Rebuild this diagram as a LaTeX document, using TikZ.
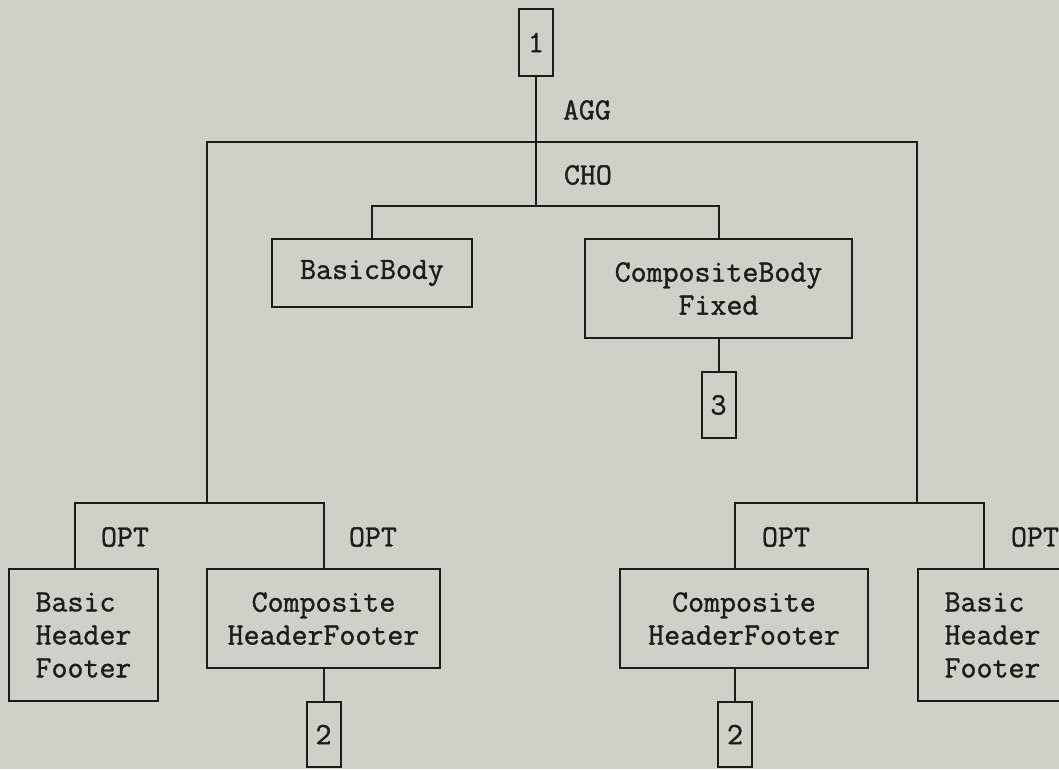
\documentclass[tikz,border=0pt]{standalone}
\usepackage{fontspec}
\setmonofont{Latin Modern Mono}[FakeBold=1.2]
\usetikzlibrary{positioning,calc}

\definecolor{paper}{RGB}{207,209,201}
\definecolor{ink}{RGB}{28,28,28}
\newcommand{\typew}{\ttfamily\fontsize{31}{33}\selectfont}

\begin{document}
\begin{tikzpicture}[
  x=1pt, y=-1pt,
  line width=2pt,
  box/.style={draw=ink, line width=2pt, inner sep=0pt, font=\typew, text=ink},
  numbox/.style={box, minimum width=34pt, minimum height=66pt},
  lbl/.style={font=\typew, text=ink, inner sep=0pt, anchor=west}
]
\useasboundingbox (0,0) rectangle (1059,769);
\fill[paper] (0,0) rectangle (1059,769);
\clip (0,0) rectangle (1059,769);

% top
\node[numbox, minimum height=67pt] (n1) at (536,42.5) {1};
\coordinate (aggL) at (207,142);
\coordinate (aggR) at (917,142);
\coordinate (cho) at (536,206);
\node[lbl] (agg) at (562,110) {AGG};
\node[lbl] (chol) at (563,175) {CHO};

% body
\node[box, minimum width=200pt, minimum height=68pt] (basicBody) at (372,273) {BasicBody};
\node[box, minimum width=267pt, minimum height=99pt, align=center] (compBody) at (718.5,288.5) {CompositeBody\\Fixed};
\node[numbox] (n3) at (718.5,405) {3};

% header / footer, left
\coordinate (optL) at (207,503);
\node[lbl] (optL1) at (100,537) {OPT};
\node[lbl] (optL2) at (348,537) {OPT};
\node[box, minimum width=149pt, minimum height=132pt, align=left] (basicHFl) at (83.5,635) {Basic\\Header\\Footer};
\node[box, minimum width=233pt, minimum height=99pt, align=center] (compHFl) at (323.5,618.5) {Composite\\HeaderFooter};
\node[numbox, minimum height=65pt] (n2l) at (323.5,734.5) {2};

% header / footer, right
\coordinate (optR) at (917,503);
\node[lbl] (optR1) at (761,537) {OPT};
\node[lbl] (optR2) at (1010,537) {OPT};
\node[box, minimum width=248pt, minimum height=99pt, align=center] (compHFr) at (744,618.5) {Composite\\HeaderFooter};
\node[box, minimum width=149pt, minimum height=132pt, align=left] (basicHFr) at (992.5,635) {Basic\\Header\\Footer};
\node[numbox, minimum height=65pt] (n2r) at (735,734.5) {2};

\begin{scope}[draw=ink]
\draw (n1.south) -- (cho);
\draw (optL) |- (aggL) -- (aggR) -- (optR);
\draw (basicBody.north) |- (cho) -| (compBody.north);
\draw (compBody.south) -- (n3.north);
\draw ($(basicHFl.north)+(-8.5,0)$) |- (optL) -| (compHFl.north);
\draw (compHFl.south) -- (n2l.north);
\draw ($(compHFr.north)+(-9,0)$) |- (optR) -| ($(basicHFr.north)+(-8.5,0)$);
\draw ($(compHFr.south)+(-9,0)$) -- (n2r.north);
\end{scope}

\end{tikzpicture}
\end{document}
